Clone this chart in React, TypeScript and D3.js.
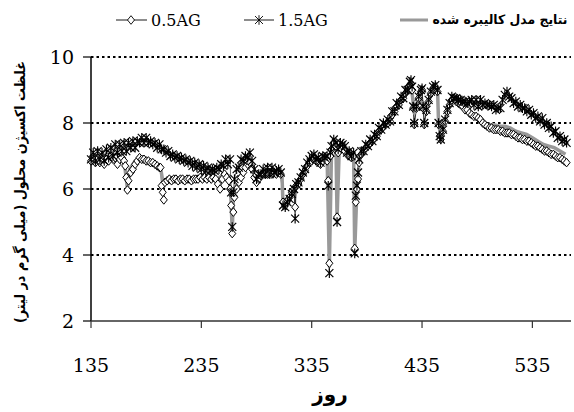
import React from "react";
import * as d3 from "d3";

type Pt = [number, number];

// day, dissolved oxygen (mg/L)
const series15: Pt[] = [
[135,6.9],[137,7.1],[139,6.85],[141,7.15],[143,6.9],[145,7.1],[147,6.85],[149,7.2],[151,6.95],[153,7.25],[155,7.0],[157,7.35],[159,7.1],[161,7.35],[163,7.15],[165,7.4],[167,7.15],[169,7.4],[171,7.25],[173,7.45],[175,7.25],[177,7.45],[179,7.4],[181,7.55],[183,7.4],[185,7.55],[187,7.4],[189,7.45],[191,7.35],[193,7.4],[195,7.25],[197,7.35],[199,7.2],[201,7.2],[203,7.1],[205,7.15],[207,7.0],[209,7.05],[211,6.95],[213,7.0],[215,6.9],[217,6.95],[219,6.85],[221,6.9],[223,6.8],[225,6.85],[227,6.7],[229,6.8],[231,6.65],[233,6.75],[235,6.6],[237,6.7],[239,6.55],[241,6.65],[243,6.55],[245,6.6],[247,6.55],[249,6.65],[251,6.6],[253,6.75],[255,6.7],[257,6.9],[259,6.75],[261,6.9],[262,5.9],[263,4.85],[264,5.9],[265,6.3],[267,6.6],[269,6.65],[271,6.9],[273,6.85],[275,7.0],[277,6.95],[279,7.1],[281,6.85],[283,6.6],[285,6.3],[287,6.45],[289,6.45],[291,6.6],[293,6.45],[295,6.65],[297,6.45],[299,6.65],[301,6.5],[303,6.55],[305,6.6],[307,6.5],[309,5.5],[311,5.45],[313,5.6],[315,5.7],[317,5.85],[319,6.0],[320,5.1],[321,6.15],[323,6.2],[325,6.35],[327,6.5],[329,6.6],[331,6.8],[333,6.9],[335,7.0],[337,7.05],[339,6.9],[341,6.95],[343,6.8],[345,7.0],[347,6.95],[349,7.0],[350,6.1],[351,3.45],[352,7.1],[353,7.3],[355,7.5],[357,7.4],[358,5.0],[359,7.2],[361,7.4],[363,7.35],[365,7.3],[367,7.1],[369,7.15],[371,7.0],[373,7.1],[374,4.05],[375,5.8],[376,6.1],[377,6.5],[378,6.9],[380,7.15],[382,7.15],[384,7.35],[386,7.3],[388,7.5],[390,7.45],[392,7.65],[394,7.6],[396,7.85],[398,7.8],[400,8.0],[402,7.95],[404,8.1],[406,8.05],[408,8.35],[410,8.35],[412,8.6],[414,8.55],[416,8.8],[418,8.75],[420,9.0],[422,9.0],[424,9.25],[425,9.3],[426,9.1],[427,8.5],[428,8.0],[430,8.5],[432,8.8],[434,9.0],[435,9.05],[436,8.5],[437,8.0],[439,8.4],[441,8.7],[443,8.95],[445,9.1],[447,9.15],[449,9.0],[450,8.0],[451,7.6],[452,7.5],[454,7.8],[456,8.1],[458,8.4],[460,8.6],[462,8.8],[464,8.75],[466,8.75],[468,8.7],[470,8.7],[472,8.65],[474,8.65],[476,8.6],[478,8.65],[480,8.7],[482,8.55],[484,8.7],[486,8.5],[488,8.7],[490,8.55],[492,8.6],[494,8.55],[496,8.55],[498,8.5],[500,8.55],[502,8.4],[504,8.45],[506,8.45],[508,8.7],[510,8.85],[512,8.95],[514,8.8],[516,8.75],[518,8.6],[520,8.65],[522,8.5],[524,8.55],[526,8.45],[528,8.45],[530,8.35],[532,8.4],[534,8.25],[536,8.3],[538,8.15],[540,8.2],[542,8.05],[544,8.15],[546,7.95],[548,8.0],[550,7.85],[552,7.9],[554,7.7],[556,7.75],[558,7.55],[560,7.6],[562,7.45],[564,7.5],[566,7.4]
];

const series05: Pt[] = [
[135,6.85],[137,6.9],[139,6.8],[141,6.95],[143,6.8],[145,6.9],[147,6.75],[149,6.9],[151,6.85],[153,7.0],[155,6.9],[157,6.95],[159,6.75],[161,6.9],[163,6.95],[165,6.85],[166,6.7],[167,6.35],[168,5.97],[169,6.25],[171,6.5],[173,6.6],[175,6.75],[177,6.85],[179,6.95],[181,6.9],[183,6.9],[185,6.85],[187,6.85],[189,6.8],[191,6.8],[193,6.75],[195,6.7],[197,6.65],[198,6.65],[199,6.1],[200,5.9],[201,5.67],[202,6.2],[204,6.25],[206,6.3],[208,6.25],[210,6.3],[212,6.3],[214,6.25],[216,6.3],[218,6.3],[220,6.25],[222,6.3],[224,6.3],[226,6.25],[228,6.3],[230,6.3],[232,6.3],[234,6.35],[236,6.3],[238,6.35],[240,6.3],[242,6.35],[244,6.3],[246,6.35],[248,6.3],[250,6.15],[252,6.0],[254,6.3],[256,6.45],[258,6.35],[260,6.25],[261,6.0],[262,5.5],[263,4.65],[264,5.3],[265,5.75],[267,6.0],[269,6.2],[271,6.35],[273,6.5],[275,6.65],[277,6.75],[279,6.8],[281,6.6],[283,6.35],[285,6.2],[287,6.3],[289,6.4],[291,6.45],[293,6.5],[295,6.45],[297,6.5],[299,6.45],[301,6.5],[303,6.45],[305,6.5],[307,6.45],[309,5.6],[311,5.5],[313,5.65],[315,5.75],[317,5.9],[319,6.0],[320,5.45],[321,6.1],[323,6.15],[325,6.3],[327,6.45],[329,6.55],[331,6.7],[333,6.8],[335,6.85],[337,6.95],[339,6.85],[341,6.8],[343,6.75],[345,6.85],[347,6.9],[349,6.85],[350,6.25],[351,3.75],[352,7.0],[353,7.2],[355,7.4],[357,7.3],[358,5.15],[359,7.1],[361,7.25],[363,7.3],[365,7.15],[367,7.05],[369,7.0],[371,6.95],[373,7.0],[374,4.2],[375,5.6],[376,6.0],[377,6.3],[378,6.8],[380,7.05],[382,7.15],[384,7.25],[386,7.3],[388,7.4],[390,7.45],[392,7.55],[394,7.6],[396,7.75],[398,7.8],[400,7.9],[402,7.95],[404,8.0],[406,8.05],[408,8.25],[410,8.35],[412,8.5],[414,8.55],[416,8.7],[418,8.75],[420,8.9],[422,9.0],[424,9.15],[425,9.2],[426,9.0],[427,8.45],[428,7.95],[430,8.45],[432,8.75],[434,8.95],[435,9.0],[436,8.45],[437,7.95],[439,8.35],[441,8.65],[443,8.9],[445,9.05],[447,9.1],[449,8.95],[450,7.95],[451,7.6],[452,7.5],[454,7.75],[456,8.05],[458,8.35],[460,8.55],[462,8.7],[464,8.75],[466,8.65],[468,8.6],[470,8.55],[472,8.5],[474,8.4],[476,8.4],[478,8.3],[480,8.25],[482,8.2],[484,8.2],[486,8.15],[488,8.1],[490,8.0],[492,7.95],[494,7.9],[496,7.85],[498,7.85],[500,7.8],[502,7.8],[504,7.8],[506,7.75],[508,7.75],[510,7.7],[512,7.7],[514,7.7],[516,7.65],[518,7.65],[520,7.6],[522,7.55],[524,7.55],[526,7.5],[528,7.5],[530,7.45],[532,7.45],[534,7.4],[536,7.35],[538,7.3],[540,7.3],[542,7.25],[544,7.2],[546,7.15],[548,7.15],[550,7.1],[552,7.05],[554,7.05],[556,7.0],[558,6.95],[560,6.95],[562,6.9],[564,6.85],[566,6.8]
];

const calibrated: Pt[] = [
[135,6.9],[140,6.95],[145,6.9],[150,7.0],[155,7.0],[160,6.9],[165,6.85],[167,6.3],[168,6.0],[170,6.6],[175,6.85],[180,6.9],[185,6.85],[190,6.8],[195,6.7],[198,6.65],[200,6.25],[205,6.25],[210,6.3],[215,6.3],[220,6.3],[225,6.3],[230,6.3],[235,6.35],[240,6.35],[245,6.35],[250,6.3],[255,6.45],[260,6.4],[262,5.6],[263,4.7],[264,5.8],[267,6.2],[272,6.5],[277,6.8],[281,6.6],[285,6.3],[290,6.45],[295,6.5],[300,6.5],[305,6.5],[308,6.5],[309,5.55],[312,5.55],[316,5.8],[320,6.05],[325,6.35],[330,6.7],[335,6.9],[340,6.9],[345,6.85],[349,6.9],[351,3.65],[353,7.2],[355,7.35],[357,7.3],[358,5.1],[360,7.25],[365,7.3],[370,7.1],[373,7.05],[374,4.1],[376,6.0],[378,6.8],[380,7.05],[385,7.3],[390,7.5],[395,7.7],[400,7.95],[405,8.1],[410,8.4],[415,8.7],[420,8.95],[425,9.2],[428,8.3],[432,8.8],[436,8.6],[440,8.5],[444,9.0],[449,9.05],[450,8.0],[452,7.6],[456,8.1],[460,8.55],[465,8.7],[470,8.6],[475,8.45],[480,8.3],[485,8.2],[490,8.05],[495,7.95],[500,7.95],[505,7.9],[510,7.9],[515,7.85],[520,7.75],[525,7.7],[530,7.65],[535,7.55],[540,7.45],[545,7.35],[550,7.3],[555,7.25],[560,7.15],[565,7.05]
];

const xTicks = [135, 235, 335, 435, 535];
const yTicks = [2, 4, 6, 8, 10];
const gridValues = [4, 6, 8, 10];

const yTitle = "غلظت اکسیژن محلول (میلی گرم در لیتر)";
const xTitle = "روز";
const legendCal = "نتایج مدل کالیبره شده";
const legend05 = "0.5AG";
const legend15 = "1.5AG";

const W = 574;
const H = 412;

const diamondPath = "M0,-4.3L3.5,0L0,4.3L-3.5,0Z";
const starPath = "M-4,-4L4,4M-4,4L4,-4M0,-4.8V4.8";

export default function App() {
  const x = d3.scaleLinear().domain([135, 570]).range([91, 571]);
  const y = d3.scaleLinear().domain([2, 10]).range([321, 57]);
  const line = d3
    .line<Pt>()
    .x((d) => x(d[0]))
    .y((d) => y(d[1]));

  const serif = "'DejaVu Serif', serif";
  const arab = "'DejaVu Sans', sans-serif";

  return (
    <svg
      width={W}
      height={H}
      style={{ position: "absolute", left: 0, top: 0, background: "#fff" }}
    >
      <rect width={W} height={H} fill="#fff" />
      {gridValues.map((v) => (
        <line
          key={v}
          x1={x(135)}
          x2={571}
          y1={y(v)}
          y2={y(v)}
          stroke="#000"
          strokeWidth={2}
          strokeDasharray="2.5,3"
        />
      ))}
      {/* axes */}
      <line x1={x(135)} x2={x(135)} y1={y(10)} y2={y(2)} stroke="#000" strokeWidth={1.5} />
      <line x1={x(135)} x2={571} y1={y(2)} y2={y(2)} stroke="#333" strokeWidth={1.5} />
      {yTicks.map((v) => (
        <g key={v}>
          <line x1={x(135) - 8} x2={x(135)} y1={y(v)} y2={y(v)} stroke="#000" strokeWidth={1.2} />
          <text
            x={74}
            y={y(v) + 7}
            textAnchor="end"
            fontFamily={serif}
            fontSize={19}
            fill="#000"
          >
            {v}
          </text>
        </g>
      ))}
      {xTicks.map((t) => (
        <g key={t}>
          <line x1={x(t)} x2={x(t)} y1={y(2)} y2={y(2) + 7} stroke="#333" strokeWidth={1.2} />
          <text
            x={x(t)}
            y={372}
            textAnchor="middle"
            fontFamily={serif}
            fontSize={19}
            fill="#000"
          >
            {t}
          </text>
        </g>
      ))}

      {/* series connecting lines */}
      <path d={line(series05) || ""} fill="none" stroke="#000" strokeWidth={0.6} />
      <path d={line(series15) || ""} fill="none" stroke="#000" strokeWidth={0.6} />
      {/* calibrated model */}
      <path
        d={line(calibrated) || ""}
        fill="none"
        stroke="#999"
        strokeWidth={3.5}
        strokeLinejoin="round"
      />
      {/* 0.5AG markers */}
      {series05.map((d, i) => (
        <path
          key={"d" + i}
          d={diamondPath}
          transform={`translate(${x(d[0])},${y(d[1])})`}
          fill="#fff"
          stroke="#000"
          strokeWidth={1}
        />
      ))}
      {/* 1.5AG markers */}
      {series15.map((d, i) => (
        <path
          key={"s" + i}
          d={starPath}
          transform={`translate(${x(d[0])},${y(d[1])})`}
          fill="none"
          stroke="#000"
          strokeWidth={1.15}
        />
      ))}

      {/* titles */}
      <text
        transform="translate(25,192) rotate(-90)"
        textAnchor="middle"
        fontFamily={arab}
        fontSize={14}
        fontWeight="bold"
        style={{ direction: "rtl", unicodeBidi: "embed" }}
        textLength={262}
        lengthAdjust="spacingAndGlyphs"
        fill="#000"
      >
        {yTitle}
      </text>
      <text
        x={330}
        y={401}
        textAnchor="middle"
        fontFamily={arab}
        fontSize={20}
        fontWeight="bold"
        style={{ direction: "rtl", unicodeBidi: "embed" }}
        fill="#000"
      >
        {xTitle}
      </text>

      {/* legend */}
      <g>
        <line x1={116} x2={147} y1={20} y2={20} stroke="#000" strokeWidth={0.9} />
        <path d={diamondPath} transform="translate(131,20)" fill="#fff" stroke="#000" strokeWidth={0.9} />
        <text x={151} y={26} fontFamily={serif} fontSize={16} fill="#000">
          {legend05}
        </text>
        <line x1={244} x2={274} y1={20} y2={20} stroke="#000" strokeWidth={0.9} />
        <path d={starPath} transform="translate(259,20)" fill="none" stroke="#000" strokeWidth={0.9} />
        <text x={278} y={26} fontFamily={serif} fontSize={16} fill="#000">
          {legend15}
        </text>
        <line x1={400} x2={428} y1={20} y2={20} stroke="#999" strokeWidth={3} />
        <text
          x={500}
          y={24}
          textAnchor="middle"
          fontFamily={arab}
          fontSize={13}
          fontWeight="bold"
          style={{ direction: "rtl", unicodeBidi: "embed" }}
          textLength={135}
          lengthAdjust="spacingAndGlyphs"
          fill="#000"
        >
          {legendCal}
        </text>
      </g>
    </svg>
  );
}
